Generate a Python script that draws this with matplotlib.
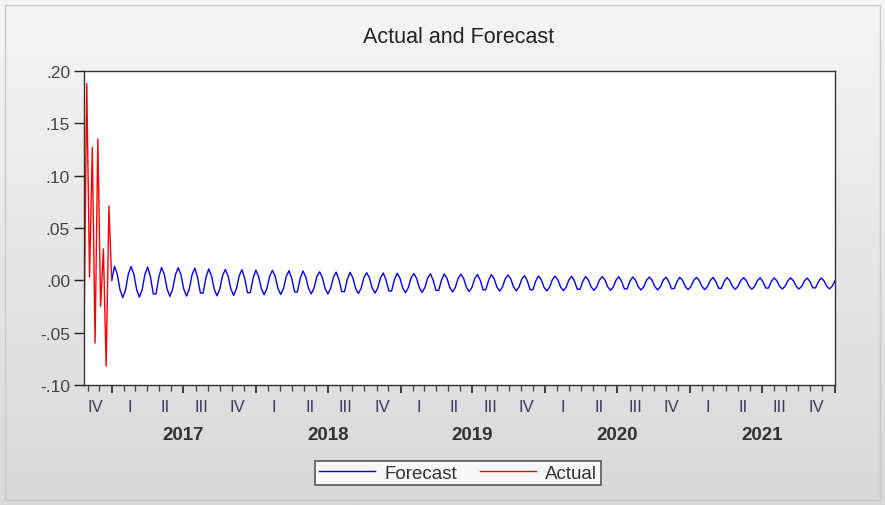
import numpy as np
import pandas as pd
import matplotlib
matplotlib.use('Agg')
import matplotlib.pyplot as plt
import matplotlib.dates as mdates
from matplotlib.patches import Rectangle
from matplotlib.ticker import FuncFormatter

plt.rcParams['font.family'] = ['Liberation Sans', 'DejaVu Sans']

# weekly observations, first one on this date
start_date = '2016-10-23'

actual = [-0.055, 0.188, 0.003, 0.127, -0.060, 0.135, -0.025, 0.030, -0.082, 0.071, 0.000]

# forecast picks up from the last actual value
forecast = [
    0.0000,
    0.0135, 0.0060, -0.0090, -0.0165, -0.0090, 0.0060,
    0.0131, 0.0058, -0.0088, -0.0161, -0.0088, 0.0058,
    0.0127, 0.0029, -0.0130, -0.0130, 0.0029,
    0.0123, 0.0054, -0.0084, -0.0153, -0.0084, 0.0054,
    0.0120, 0.0053, -0.0083, -0.0150, -0.0083, 0.0053,
    0.0116, 0.0026, -0.0121, -0.0121, 0.0026,
    0.0108, 0.0044, -0.0084, -0.0148, -0.0084, 0.0044,
    0.0104, 0.0042, -0.0082, -0.0144, -0.0082, 0.0042,
    0.0101, 0.0018, -0.0118, -0.0118, 0.0018,
    0.0098, 0.0039, -0.0079, -0.0138, -0.0079, 0.0039,
    0.0095, 0.0038, -0.0078, -0.0135, -0.0078, 0.0038,
    0.0092, 0.0015, -0.0111, -0.0111, 0.0015,
    0.0089, 0.0035, -0.0075, -0.0129, -0.0075, 0.0035,
    0.0081, 0.0028, -0.0078, -0.0131, -0.0078, 0.0028,
    0.0078, 0.0007, -0.0108, -0.0108, 0.0007,
    0.0076, 0.0026, -0.0076, -0.0126, -0.0076, 0.0026,
    0.0073, 0.0024, -0.0074, -0.0123, -0.0074, 0.0024,
    0.0070, 0.0004, -0.0102, -0.0102, 0.0004,
    0.0068, 0.0022, -0.0072, -0.0118, -0.0072, 0.0022,
    0.0065, 0.0020, -0.0070, -0.0115, -0.0070, 0.0020,
    0.0063, 0.0002, -0.0096, -0.0096, 0.0002,
    0.0061, 0.0018, -0.0068, -0.0111, -0.0068, 0.0018,
    0.0058, 0.0017, -0.0067, -0.0108, -0.0067, 0.0017,
    0.0056, 0.0000, -0.0091, -0.0091, 0.0000,
    0.0054, 0.0015, -0.0065, -0.0104, -0.0065, 0.0015,
    0.0051, 0.0013, -0.0063, -0.0101, -0.0063, 0.0013,
    0.0044, -0.0007, -0.0090, -0.0090, -0.0007,
    0.0042, 0.0006, -0.0066, -0.0102, -0.0066, 0.0006,
    0.0039, 0.0005, -0.0065, -0.0099, -0.0065, 0.0005,
    0.0038, -0.0009, -0.0085, -0.0085, -0.0009,
    0.0036, 0.0003, -0.0063, -0.0096, -0.0063, 0.0003,
    0.0035, 0.0003, -0.0063, -0.0095, -0.0063, 0.0003,
    0.0034, -0.0010, -0.0082, -0.0082, -0.0010,
    0.0032, 0.0001, -0.0061, -0.0092, -0.0061, 0.0001,
    0.0031, 0.0001, -0.0061, -0.0091, -0.0061, 0.0001,
    0.0030, -0.0011, -0.0079, -0.0079, -0.0011,
    0.0029, 0.0000, -0.0060, -0.0089, -0.0060, 0.0000,
    0.0028, -0.0001, -0.0059, -0.0088, -0.0059, -0.0001,
    0.0027, -0.0012, -0.0076, -0.0076, -0.0012,
    0.0026, -0.0002, -0.0058, -0.0086, -0.0058, -0.0002,
    0.0025, -0.0002, -0.0058, -0.0085, -0.0058, -0.0002,
    0.0024, -0.0013, -0.0074, -0.0074, -0.0013,
    0.0023, -0.0003, -0.0057, -0.0083, -0.0057, -0.0003,
    0.0023, -0.0003, -0.0057, -0.0083, -0.0057, -0.0003,
    0.0022, -0.0014, -0.0072, -0.0072, -0.0014,
    0.0022, -0.0004, -0.0056, -0.0082, -0.0056, -0.0004,
]

years = [2017, 2018, 2019, 2020, 2021]
quarter_names = ['I', 'II', 'III', 'IV']
y_ticks = [-0.10, -0.05, 0.00, 0.05, 0.10, 0.15, 0.20]

dates = pd.date_range(start_date, periods=len(actual) + len(forecast) - 1, freq='7D')
act_dates = dates[:len(actual)]
fc_dates = dates[len(actual) - 1:]

fig = plt.figure(figsize=(8.85, 5.06), dpi=100)

# grey backdrop, a bit darker towards the bottom
bg = fig.add_axes([0, 0, 1, 1], zorder=-10)
grad = np.linspace(0, 1, 256).reshape(-1, 1)
bg.imshow(grad, aspect='auto', cmap=matplotlib.colors.LinearSegmentedColormap.from_list(
    'bg', ['#f5f5f5', '#d8d8d8']), extent=[0, 1, 0, 1], origin='upper')
bg.add_patch(Rectangle((0.006, 0.01), 0.988, 0.978, fill=False, ec='#c8c8c8', lw=1))
bg.set_xlim(0, 1)
bg.set_ylim(0, 1)
bg.axis('off')

ax = fig.add_axes([0.0949, 0.2372, 0.8486, 0.6205])
ax.set_facecolor('white')

ax.plot(fc_dates, forecast, color='#0000ff', lw=1.0, label='Forecast')
ax.plot(act_dates, actual, color='#ff0000', lw=1.0, label='Actual')

ax.set_xlim(dates[0], dates[-1])
ax.set_ylim(-0.10, 0.20)
ax.set_yticks(y_ticks)
ax.yaxis.set_major_formatter(FuncFormatter(lambda v, p: f'{v:.2f}'.replace('0.', '.')))

ax.xaxis.set_major_locator(mdates.MonthLocator(bymonth=[1, 7]))
ax.xaxis.set_minor_locator(mdates.MonthLocator())
ax.xaxis.set_major_formatter(plt.NullFormatter())

ax.tick_params(axis='y', direction='out', length=7, width=1, colors='#222',
               labelsize=12.5, labelcolor='#444', pad=3)
ax.tick_params(axis='x', which='major', direction='out', length=6, width=1.2, colors='#222')
ax.tick_params(axis='x', which='minor', direction='out', length=4, width=0.9, colors='#444')
for s in ax.spines.values():
    s.set_color('#333')
    s.set_linewidth(1.0)

# quarter numerals and years under the axis
tr = ax.get_xaxis_transform()
ax.text(pd.Timestamp('2016-11-20'), -0.07, 'IV', transform=tr, ha='center', va='center',
        fontsize=12, color='#3a3a5a')
for yr in years:
    for q, name in enumerate(quarter_names):
        mid = pd.Timestamp(yr, 3 * q + 1, 1) + pd.Timedelta(days=45)
        ax.text(mid, -0.07, name, transform=tr, ha='center', va='center',
                fontsize=12, color='#3a3a5a')
    ax.text(pd.Timestamp(yr, 7, 1), -0.158, str(yr), transform=tr, ha='center',
            va='center', fontsize=13.5, fontweight='bold', color='#333')

fig.text(0.518, 0.925, 'Actual and Forecast', ha='center', va='center',
         fontsize=15.5, color='#222')

leg = fig.legend(loc='center', bbox_to_anchor=(0.5175, 0.063), ncol=2, fontsize=13.5,
                 handlelength=3.0, columnspacing=1.2, handletextpad=0.5,
                 frameon=True, fancybox=False, borderpad=0.2, labelcolor='#333')
leg.get_frame().set_edgecolor('#333')
leg.get_frame().set_linewidth(1.2)

fig.savefig('out.png', dpi=100)
